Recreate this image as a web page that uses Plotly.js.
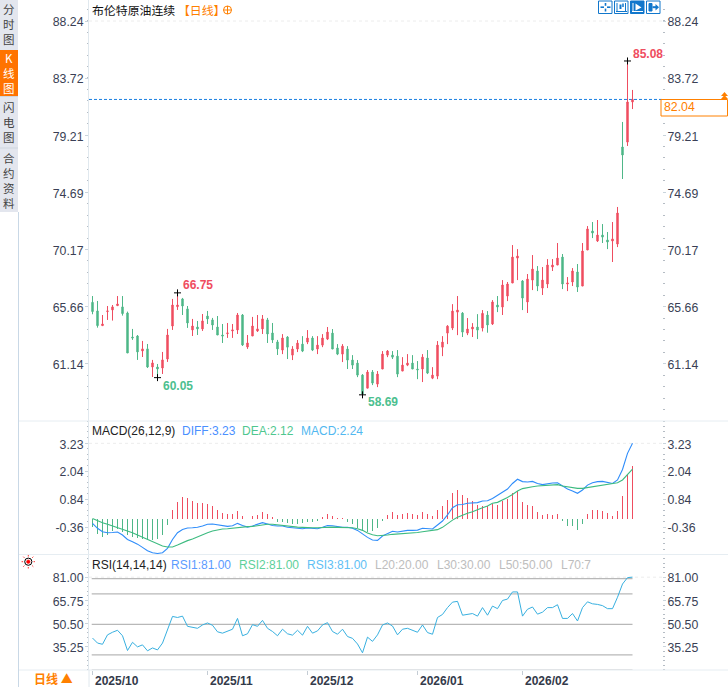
<!DOCTYPE html>
<html><head><meta charset="utf-8">
<script src="https://cdn.plot.ly/plotly-3.0.1.min.js"></script>
<style>html,body{margin:0;padding:0;background:#fff}#c{width:728px;height:687px}</style>
</head><body><div id="c"></div>
<script>
var opens=[66.00,65.32,64.16,65.27,65.40,65.74,65.64,65.16,63.26,63.34,
62.16,62.32,60.89,60.89,60.81,61.52,64.13,65.66,66.27,65.48,
63.82,64.05,63.90,64.92,64.61,64.05,63.42,63.53,63.74,63.82,
65.00,62.47,63.34,63.74,63.90,64.61,63.58,62.87,62.23,63.26,
61.83,62.31,62.70,62.86,63.18,62.31,62.62,63.10,63.57,62.39,
61.91,62.31,61.44,61.20,60.25,59.22,60.49,59.54,60.73,61.83,
61.83,61.75,60.57,61.04,61.20,60.73,60.73,61.60,60.01,60.17,
62.46,63.57,63.97,65.23,65.15,63.57,63.89,64.05,63.97,65.00,
64.29,65.79,65.63,66.50,67.53,69.50,67.69,66.03,67.76,68.48,
67.13,67.45,68.79,68.95,69.58,67.45,67.61,68.40,67.29,70.14,
71.64,70.85,71.32,70.93,70.85,70.61,78.28,78.67,81.84];
var highs=[66.50,66.11,65.00,65.71,65.79,66.50,66.50,65.27,63.90,63.42,
62.95,62.71,61.45,61.13,62.08,63.90,66.27,66.75,66.35,65.71,
64.69,64.53,65.08,65.32,64.77,64.92,64.29,64.37,64.29,65.16,
65.08,63.42,64.85,65.00,65.00,64.77,64.37,63.03,63.49,63.33,
62.54,63.02,63.33,63.81,63.33,63.33,63.49,64.05,63.89,62.70,
62.70,62.54,61.83,61.44,60.33,60.65,60.65,60.57,62.15,62.23,
62.15,62.23,61.67,61.91,61.83,61.36,61.91,62.23,60.88,62.94,
63.33,64.20,65.86,66.50,65.23,64.76,64.36,65.07,65.39,65.31,
66.18,66.50,67.76,67.61,70.53,70.21,67.76,68.24,69.74,68.87,
68.79,69.42,69.42,70.69,69.82,68.00,68.71,69.03,70.69,72.03,
72.35,72.51,72.19,71.56,72.35,73.54,80.26,85.08,82.79];
var lows=[65.06,64.00,64.16,64.61,64.56,65.71,64.95,62.00,63.03,61.45,
61.68,60.81,60.10,60.05,60.34,61.29,63.82,65.40,65.00,63.98,
63.34,63.42,63.74,64.29,63.82,63.42,62.79,63.19,63.19,63.50,
62.55,62.32,63.34,63.66,63.50,62.79,62.79,61.84,61.91,61.52,
61.44,62.07,62.07,62.70,62.15,61.91,62.46,63.02,62.31,61.83,
61.28,60.73,60.73,60.09,58.69,59.22,59.46,59.30,60.73,61.67,
61.52,60.09,60.57,60.96,60.73,59.93,59.70,60.33,59.93,59.93,
61.75,62.70,63.81,63.41,63.26,63.41,63.26,63.10,63.70,63.60,
64.21,65.23,65.00,66.10,67.53,67.76,65.39,65.16,66.97,66.89,
66.58,67.13,68.48,68.95,67.05,66.89,67.29,66.82,67.29,70.14,
71.08,70.77,70.69,70.21,69.19,70.37,75.75,78.36,81.28];
var closes=[65.27,64.16,64.29,65.32,65.64,65.87,65.11,62.00,63.19,62.08,
62.32,60.89,61.21,60.73,61.45,63.42,65.79,65.79,65.71,64.37,
64.13,63.90,64.53,64.69,64.21,63.42,63.34,63.58,63.82,65.00,
62.63,62.79,64.13,63.90,64.69,63.50,63.03,62.32,63.18,62.46,
62.31,62.78,62.15,63.18,62.23,62.62,63.18,63.65,62.31,61.91,
62.54,61.44,61.04,60.25,58.75,60.49,59.62,60.33,61.91,62.15,
61.67,60.33,61.04,61.20,60.73,60.67,61.67,60.41,60.25,62.62,
62.86,64.12,65.31,65.39,63.65,63.89,64.05,63.81,65.13,64.21,
66.03,65.63,67.37,67.45,69.58,69.66,66.34,67.84,68.63,67.29,
67.76,68.95,68.95,69.50,67.45,67.53,68.48,67.21,70.06,71.80,
71.48,71.32,71.16,70.77,71.01,73.06,77.65,81.84,82.04];
var extremes=[60.05,66.75,58.69,85.08];
var extremeIdx=[13,17,54,107];
var lastPrice=82.04;

var macdBars=[-0.36,-0.64,-0.79,-0.69,-0.53,-0.43,-0.57,-0.71,-0.79,-0.83,
-0.89,-0.93,-0.93,-0.89,-0.71,-0.29,0.36,0.70,0.91,0.87,
0.74,0.66,0.66,0.61,0.53,0.36,0.23,0.19,0.19,0.31,
0.10,-0.03,0.10,0.14,0.27,0.19,0.06,-0.14,-0.16,-0.19,
-0.23,-0.24,-0.19,-0.13,-0.13,-0.11,0.06,0.19,0.10,0.03,
0.01,-0.16,-0.24,-0.39,-0.54,-0.57,-0.54,-0.40,-0.09,0.17,
0.30,0.17,0.21,0.24,0.21,0.17,0.30,0.21,0.13,0.39,
0.56,0.81,1.11,1.24,1.03,0.90,0.77,0.60,0.56,0.56,
0.64,0.60,0.77,0.86,1.11,1.20,0.73,0.60,0.56,0.30,
0.17,0.21,0.17,0.21,-0.09,-0.30,-0.30,-0.47,-0.21,0.21,
0.39,0.39,0.34,0.26,0.13,0.34,0.99,1.89,2.24];
var diff=[-0.20,-0.41,-0.56,-0.60,-0.59,-0.57,-0.70,-0.89,-0.99,-1.09,
-1.23,-1.37,-1.46,-1.49,-1.46,-1.27,-0.89,-0.60,-0.46,-0.40,
-0.39,-0.37,-0.31,-0.24,-0.23,-0.26,-0.31,-0.33,-0.30,-0.20,
-0.29,-0.36,-0.31,-0.24,-0.17,-0.23,-0.29,-0.31,-0.31,-0.37,
-0.39,-0.43,-0.43,-0.40,-0.41,-0.43,-0.37,-0.29,-0.30,-0.34,
-0.37,-0.37,-0.41,-0.50,-0.66,-0.80,-0.91,-0.93,-0.74,-0.63,
-0.54,-0.57,-0.53,-0.50,-0.50,-0.49,-0.41,-0.43,-0.44,-0.27,
-0.10,0.16,0.47,0.60,0.61,0.66,0.66,0.69,0.76,0.77,
0.87,1.01,1.16,1.27,1.51,1.69,1.59,1.57,1.60,1.51,
1.46,1.51,1.53,1.54,1.40,1.27,1.19,1.09,1.23,1.44,
1.54,1.59,1.60,1.57,1.51,1.66,2.11,2.80,3.23];
var dea=[0.01,-0.09,-0.17,-0.24,-0.31,-0.37,-0.44,-0.51,-0.60,-0.70,
-0.80,-0.90,-1.00,-1.10,-1.17,-1.21,-1.21,-1.13,-1.03,-0.94,
-0.87,-0.77,-0.69,-0.60,-0.53,-0.47,-0.44,-0.43,-0.40,-0.37,
-0.36,-0.34,-0.33,-0.29,-0.26,-0.24,-0.24,-0.27,-0.30,-0.31,
-0.33,-0.36,-0.37,-0.39,-0.39,-0.39,-0.37,-0.36,-0.36,-0.37,
-0.37,-0.37,-0.39,-0.43,-0.50,-0.61,-0.69,-0.73,-0.73,-0.70,
-0.67,-0.66,-0.64,-0.63,-0.61,-0.59,-0.56,-0.53,-0.51,-0.47,
-0.37,-0.20,-0.06,0.06,0.16,0.23,0.30,0.40,0.47,0.54,
0.66,0.70,0.80,0.91,1.04,1.19,1.29,1.34,1.37,1.40,
1.41,1.43,1.44,1.46,1.40,1.37,1.31,1.30,1.30,1.33,
1.37,1.40,1.43,1.47,1.49,1.54,1.66,1.87,2.12];
var rsi=[41.0,37.7,36.9,43.1,44.8,46.1,42.5,32.8,38.2,35.2,
36.5,32.6,34.5,33.2,37.7,46.3,55.2,54.5,55.4,48.7,
48.1,47.4,49.6,50.9,49.4,45.1,44.2,45.3,46.8,53.9,
42.5,43.8,49.8,48.7,52.6,47.4,45.3,42.5,46.8,43.8,
42.9,46.1,42.9,48.7,44.2,45.7,49.6,51.1,45.3,43.5,
46.8,42.0,40.8,37.1,31.3,41.6,38.8,43.1,49.6,50.9,
48.9,43.1,46.8,47.4,45.9,44.8,49.6,44.6,43.5,54.5,
56.5,61.0,64.6,65.1,56.0,56.7,57.1,55.4,61.0,56.0,
62.0,60.3,65.7,66.6,71.3,71.3,55.4,59.9,61.4,56.7,
58.0,61.0,61.0,62.9,53.9,53.9,57.1,52.2,61.0,64.8,
63.5,63.1,62.3,60.3,60.3,67.8,76.5,80.7,81.0];
var rsiLevels=[20,30,50,70,80];

var priceTicks=[88.24,83.72,79.21,74.69,70.17,65.66,61.14];
var macdTicks=[3.23,2.04,0.84,-0.36];
var rsiTicks=[81.00,65.75,50.50,35.25];
var monthIdx=[0,23,43,65,86];
var monthLabels=["2025/10","2025/11","2025/12","2026/01","2026/02"];
var sideTabs=["分<br>时<br>图","K<br>线<br>图","闪<br>电<br>图","合<br>约<br>资<br>料"];

var RED="#ef4d60",GREEN="#4fb788",BLUE="#2f8dfa",DEAC="#3dbb80",RSIC="#38b0e0",ORANGE="#ff8000",ICON="#1177cc";
var DARK="#3a3f55",FONT="'Liberation Sans',Arial,sans-serif",CJK="'Noto Sans CJK SC','Liberation Sans',sans-serif";
var idx=opens.map(function(_,i){return i;});

function px(x){return (x-89)/573;}
function py(y){return (670-y)/670;}
function note(x,y,text,color,size,anchor,font){
  return {xref:"paper",yref:"paper",x:px(x),y:py(y),text:text,showarrow:false,xanchor:anchor||"left",yanchor:"middle",
    font:{family:font||FONT,size:size||12,color:color||"#222"},borderpad:0,borderwidth:0,align:"center"};
}
function rect(x0,y0,x1,y1,fill,line){
  return {type:"rect",xref:"paper",yref:"paper",x0:px(x0),y0:py(y0),x1:px(x1),y1:py(y1),fillcolor:fill||"rgba(0,0,0,0)",
    line:{color:line||"rgba(0,0,0,0)",width:line?1:0},layer:"above"};
}
function seg(x0,y0,x1,y1,color,w,dash){
  return {type:"line",xref:"paper",yref:"paper",x0:px(x0),y0:py(y0),x1:px(x1),y1:py(y1),line:{color:color,width:w||1,dash:dash||"solid"},layer:"above"};
}
function circ(cx,cy,r,fill,line,w){
  return {type:"circle",xref:"paper",yref:"paper",x0:px(cx-r),y0:py(cy-r),x1:px(cx+r),y1:py(cy+r),fillcolor:fill,line:{color:line,width:w||1},layer:"above"};
}
function tri(x0,x1,ymid,top,bottom,color){
  var a=px(x0),b=px(x1),m=px(ymid);
  return {type:"path",xref:"paper",yref:"paper",path:"M"+a+","+py(bottom)+" L"+m+","+py(top)+" L"+b+","+py(bottom)+" Z",fillcolor:color,line:{width:0},layer:"above"};
}
function dataLine(y0,yref,color,w,dash){
  return {type:"line",xref:"x",yref:yref,x0:-0.7,x1:113.9,y0:y0,y1:y0,line:{color:color,width:w||1,dash:dash||"solid"},layer:"below"};
}
function levelLine(v){
  return {type:"line",xref:"x",yref:"y3",x0:-0.16,x1:108,y0:v,y1:v,line:{color:"#b8b8b8",width:1.2},layer:"below"};
}
function yAxis(domain,range,ticks,side,overlay,minorStep,minorStart){
  var a={domain:domain,range:range,tickmode:"array",tickvals:ticks,ticktext:ticks.map(function(v){return v.toFixed(2);}),
    side:side,ticks:"outside",ticklen:3,tickcolor:"#c9d4dc",tickwidth:1,showgrid:false,zeroline:false,fixedrange:true,
    ticklabelstandoff:side==="left"?-1:-1,ticklabelshift:1,
    tickfont:{family:FONT,size:12.3,color:DARK},anchor:"x",showline:side==="left",linecolor:"#e0e8ee",linewidth:1,
    minor:{tickmode:"linear",tick0:minorStart,dtick:minorStep,ticks:"outside",ticklen:1.5,tickcolor:"#b5bcc4",tickwidth:1,showgrid:false}};
  if(overlay){a.overlaying=overlay;}
  return a;
}

var traces=[
 {type:"candlestick",x:idx,open:opens,high:highs,low:lows,close:closes,xaxis:"x",yaxis:"y",
  increasing:{line:{color:RED,width:1},fillcolor:RED},decreasing:{line:{color:GREEN,width:1},fillcolor:GREEN},
  whiskerwidth:0,hoverinfo:"skip",showlegend:false},
 {type:"scatter",mode:"markers",x:extremeIdx,y:extremes,xaxis:"x",yaxis:"y",marker:{symbol:"cross-thin",size:5,line:{color:"#000",width:1}},hoverinfo:"skip",showlegend:false},
 {type:"bar",x:idx,y:macdBars,xaxis:"x",yaxis:"y2",width:0.2,marker:{color:macdBars.map(function(v){return v>=0?RED:GREEN;}),line:{width:0}},hoverinfo:"skip",showlegend:false},
 {type:"scatter",mode:"lines",x:idx,y:diff,xaxis:"x",yaxis:"y2",line:{color:BLUE,width:1.1},hoverinfo:"skip",showlegend:false},
 {type:"scatter",mode:"lines",x:idx,y:dea,xaxis:"x",yaxis:"y2",line:{color:DEAC,width:1.1},hoverinfo:"skip",showlegend:false},
 {type:"scatter",mode:"lines",x:idx,y:rsi,xaxis:"x",yaxis:"y3",line:{color:RSIC,width:1},hoverinfo:"skip",showlegend:false},
 {type:"scatter",mode:"none",x:[],y:[],xaxis:"x",yaxis:"y4",hoverinfo:"skip",showlegend:false},
 {type:"scatter",mode:"none",x:[],y:[],xaxis:"x",yaxis:"y5",hoverinfo:"skip",showlegend:false},
 {type:"scatter",mode:"none",x:[],y:[],xaxis:"x",yaxis:"y6",hoverinfo:"skip",showlegend:false}
];

var shapes=[
 rect(0,0,18,212,"#e3e6ee"),
 rect(0,50,18,96,"#ff7300"),
 seg(0,96.5,18,96.5,"#cfd6de"),seg(0,148,18,148,"#cfd6de"),
 seg(18.5,212,18.5,687,"#c9d8e6"),
 seg(19,421,728,421,"#e6edf2"),seg(19,554.5,728,554.5,"#e6edf2"),seg(19,670,728,670,"#e6edf2"),
 seg(89,670,89,687,"#e0e8ee"),
 dataLine(priceTicks[0],"y","#ececec",1,"3px,3px"),
 dataLine(macdTicks[0],"y2","#ececec",1,"3px,3px"),
 dataLine(rsiTicks[0],"y3","#ececec",1,"3px,3px"),
 dataLine(lastPrice,"y","#1a7fe0",1,"3px,2px"),
 rect(661,99.5,727.5,116,"#ffffff",ORANGE),
 tri(721,728,724.5,92,96,ORANGE),tri(721,728,724.5,95,99,ORANGE),
 circ(227.5,10,4,"rgba(0,0,0,0)",ORANGE),seg(223.5,10,231.5,10,ORANGE),seg(227.5,6,227.5,14,ORANGE),
 circ(28.3,561.7,3.6,"#ffffff","#000",1),circ(28.3,561.7,1.8,"#ff0000","#ff0000",0.5)
];
rsiLevels.forEach(function(v){shapes.push(levelLine(v));});
[[28.3,555,28.3,556.5],[28.3,567,28.3,568.5],[21.6,561.7,23.1,561.7],[33.5,561.7,35,561.7],
 [23.3,556.7,24.4,557.8],[32.2,565.6,33.3,566.7],[33.3,556.7,32.2,557.8],[24.4,565.6,23.3,566.7]].forEach(function(r){shapes.push(seg(r[0],r[1],r[2],r[3],"#ff0000",0.8));});
[598.5,614.5,630.5,646.5].forEach(function(x,i){
  shapes.push(rect(x,1,x+13.5,13.5,i===2?ICON:"#ffffff",ICON));
});
shapes.push(seg(600.5,7.2,604,7.2,ICON,1.6),seg(607,7.2,610.5,7.2,ICON,1.6),seg(605.5,3,605.5,5.8,ICON,1.6),seg(605.5,8.6,605.5,11.5,ICON,1.6));
shapes.push(seg(617,3,617,11.5,ICON),seg(625.5,3,625.5,11.5,ICON),seg(616,11.5,627,11.5,ICON),seg(620.5,4.5,620.5,9,ICON,2),seg(623,3.5,623,7,ICON,1.5));
shapes.push(seg(633,3,633,11.5,"#fff"),seg(632,11.5,643,11.5,"#fff"),
  {type:"path",xref:"paper",yref:"paper",path:"M"+px(635.5)+","+py(3.5)+" L"+px(641.5)+","+py(7.5)+" L"+px(635.5)+","+py(10.5)+" Z",fillcolor:"#fff",line:{width:0},layer:"above"});
shapes.push(rect(649,3.5,652,11,ICON,ICON),seg(652.5,7.2,657,7.2,ICON,2),
  {type:"path",xref:"paper",yref:"paper",path:"M"+px(655.5)+","+py(4)+" L"+px(659)+","+py(7.2)+" L"+px(655.5)+","+py(10.5)+" Z",fillcolor:ICON,line:{width:0},layer:"above"});

function dataNote(i,v,dx,dy,color){
  return {xref:"x",yref:"y",x:extremeIdx[i],y:v,text:"<b>"+v.toFixed(2)+"</b>",showarrow:false,xanchor:"left",yanchor:"middle",xshift:dx,yshift:dy,
    font:{family:FONT,size:12,color:color}};
}
var anns=[
 note(9,24,sideTabs[0],"#444",11.5,"center",CJK),
 note(9,73,sideTabs[1],"#ffffff",11.5,"center",CJK),
 note(9,122,sideTabs[2],"#444",11.5,"center",CJK),
 note(9,180,sideTabs[3],"#444",11.5,"center",CJK),
 note(91.5,9.5,'布伦特原油连续 <span style="color:'+ORANGE+'">【日线】</span>',"#111",11.9,"left",CJK),
 dataNote(0,extremes[0],3.5,-8,"#4cc08f"),
 dataNote(1,extremes[1],3.5,8,RED),
 dataNote(2,extremes[2],3.5,-7,"#4cc08f"),
 dataNote(3,extremes[3],3,7,RED),
 note(664,107.5,lastPrice.toFixed(2),ORANGE,12.3),
 note(92,430.7,"MACD(26,12,9)","#222",12),
 note(182,430.7,"DIFF:"+diff[108].toFixed(2),"#4a90ff",12),
 note(242,430.7,"DEA:"+dea[108].toFixed(2),"#4fc78f",12),
 note(301,430.7,"MACD:"+macdBars[108].toFixed(2),"#52b8f0",12),
 note(92,565,"RSI(14,14,14)","#222",12),
 note(171,565,"RSI1:81.00","#5b9bff",12),
 note(239,565,"RSI2:81.00","#5ed09a",12),
 note(307,565,"RSI3:81.00","#5ec0f5",12),
 note(375,565,"L20:20.00","#bdbdbd",12),
 note(437,565,"L30:30.00","#bdbdbd",12),
 note(499,565,"L50:50.00","#bdbdbd",12),
 note(561,565,"L70:7","#bdbdbd",12),
 note(53,678.5,"<b>日线 ▲</b>",ORANGE,12,"center",CJK)
];

var layout={
 width:728,height:687,autosize:false,margin:{l:89,r:66,t:0,b:17,pad:0},
 paper_bgcolor:"#ffffff",plot_bgcolor:"#ffffff",showlegend:false,boxgap:0.6,bargap:0,dragmode:false,
 xaxis:{type:"linear",range:[-0.7,113.9],domain:[0,1],anchor:"y3",tickmode:"array",tickvals:monthIdx,
   ticktext:monthLabels.map(function(s){return "<b>"+s+"</b>";}),ticklabelposition:"outside right",ticks:"outside",ticklen:4,tickcolor:"#c4ccd4",
   ticklabelshift:2,tickfont:{family:FONT,size:12,color:"#333a4a"},showgrid:false,zeroline:false,rangeslider:{visible:false},fixedrange:true},
 yaxis:yAxis([0.3716,1],[56.62,89.90],priceTicks,"left",null,0.904,61.14),
 yaxis2:yAxis([0.1731,0.3716],[-1.514,4.186],macdTicks,"left",null,0.24,-0.36),
 yaxis3:yAxis([0,0.1716],[20,95.55],rsiTicks,"left",null,3.05,35.25),
 yaxis4:yAxis([0.3716,1],[56.62,89.90],priceTicks,"right","y",0.904,61.14),
 yaxis5:yAxis([0.1731,0.3716],[-1.514,4.186],macdTicks,"right","y2",0.24,-0.36),
 yaxis6:yAxis([0,0.1716],[20,95.55],rsiTicks,"right","y3",3.05,35.25),
 shapes:shapes,annotations:anns
};
Plotly.newPlot("c",traces,layout,{displayModeBar:false,staticPlot:true,responsive:false});
</script></body></html>
